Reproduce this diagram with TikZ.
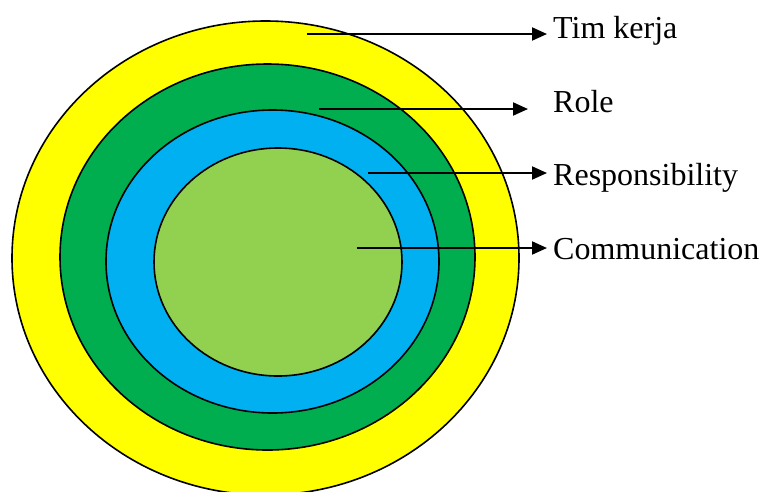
\documentclass[tikz,border=0pt]{standalone}
\usepackage{fontspec}
\setmainfont{Liberation Serif}
\usetikzlibrary{arrows.meta,shapes.geometric}
\definecolor{cyellow}{HTML}{FFFF00}
\definecolor{cgreen}{HTML}{00AD4F}
\definecolor{cblue}{HTML}{00B0F0}
\definecolor{clgreen}{HTML}{92D050}
\tikzset{
  ring/.style={ellipse, draw=black, line width=1.6pt, inner sep=0pt},
  lab/.style={anchor=base west, inner xsep=6pt, inner ysep=0pt, font=\fontsize{32}{38}\selectfont},
  arr/.style={line width=2pt, -{Triangle[length=15pt,width=13pt]}}
}
\begin{document}
\begin{tikzpicture}[x=1pt,y=-1pt]
\useasboundingbox (0,0) rectangle (763,491);
\clip (0,0) rectangle (763,491);
\node[ring, fill=cyellow, minimum width=507pt, minimum height=474pt] (yel) at (265.5,258) {};
\node[ring, fill=cgreen, minimum width=415pt, minimum height=386pt] (grn) at (267.5,257) {};
\node[ring, fill=cblue, minimum width=333pt, minimum height=303pt] (blu) at (272.5,261.5) {};
\node[ring, fill=clgreen, minimum width=248pt, minimum height=228pt] (lgr) at (278,262) {};
\node[lab] (l1) at (547,38) {Tim kerja};
\node[lab] (l2) at (547,112) {Role};
\node[lab] (l3) at (547,185) {Responsibility};
\node[lab] (l4) at (547,259) {Communication};
\coordinate (s1) at (307,34);
\coordinate (s2) at (319,109);
\coordinate (s3) at (368,173);
\coordinate (s4) at (357,248);
\coordinate (t2) at (528,109);
\draw[arr] (s1) -- (l1.west |- s1);
\draw[arr] (s2) -- (t2);
\draw[arr] (s3) -- (l3.west |- s3);
\draw[arr] (s4) -- (l4.west |- s4);
\end{tikzpicture}
\end{document}
